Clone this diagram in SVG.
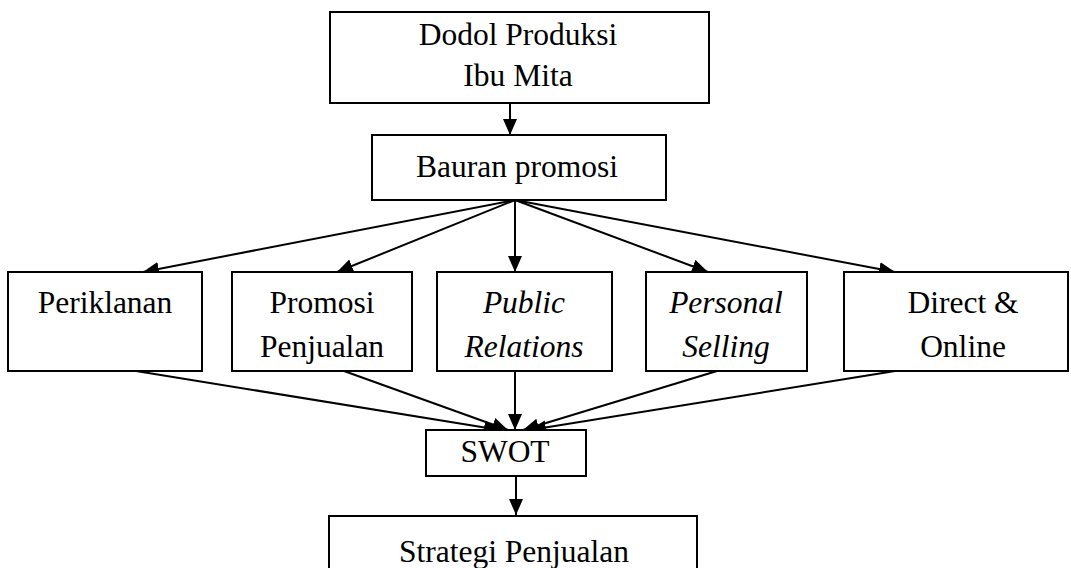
<svg xmlns="http://www.w3.org/2000/svg" width="1071" height="568" viewBox="0 0 1071 568">
<style>
.box{fill:#fff;stroke:#000;stroke-width:2}
.t{font-family:"Liberation Serif","Times New Roman",serif;font-size:31.5px;fill:#000;text-anchor:middle}
.i{font-style:italic}
.c{stroke:#000;stroke-width:2;fill:none;marker-end:url(#ah)}
</style>
<defs>
<marker id="ah" markerUnits="userSpaceOnUse" markerWidth="17" markerHeight="15" refX="16" refY="7" orient="auto">
<path d="M0,0 L16,7 L0,14 z" fill="#000"/>
</marker>
</defs>
<rect width="1071" height="568" fill="#fff"/>
<g id="connectors">
<line class="c" x1="510" y1="103" x2="510" y2="135"/>
<line class="c" x1="515" y1="200" x2="143" y2="272"/>
<line class="c" x1="515" y1="200" x2="337" y2="272"/>
<line class="c" x1="515" y1="200" x2="515" y2="272"/>
<line class="c" x1="515" y1="200" x2="708" y2="272"/>
<line class="c" x1="515" y1="200" x2="895" y2="272"/>
<line class="c" x1="136" y1="371" x2="500" y2="430"/>
<line class="c" x1="344" y1="371" x2="508" y2="430"/>
<line class="c" x1="515" y1="371" x2="515" y2="430"/>
<line class="c" x1="717" y1="371" x2="523" y2="430"/>
<line class="c" x1="895" y1="371" x2="530" y2="430"/>
<line class="c" x1="516" y1="476" x2="516" y2="515"/>
</g>
<g id="dodol">
<rect class="box" x="330" y="12" width="379" height="91"/>
<text class="t" x="518" y="45">Dodol Produksi</text>
<text class="t" x="518" y="86">Ibu Mita</text>
</g>
<g id="bauran">
<rect class="box" x="372" y="135" width="294" height="65"/>
<text class="t" x="517" y="177">Bauran promosi</text>
</g>
<g id="periklanan">
<rect class="box" x="8" y="272" width="194" height="99"/>
<text class="t" x="105" y="313">Periklanan</text>
</g>
<g id="promosi">
<rect class="box" x="232" y="272" width="180" height="99"/>
<text class="t" x="322" y="313">Promosi</text>
<text class="t" x="322" y="357">Penjualan</text>
</g>
<g id="public">
<rect class="box" x="437" y="272" width="175" height="99"/>
<text class="t i" x="524" y="313">Public</text>
<text class="t i" x="524" y="357">Relations</text>
</g>
<g id="personal">
<rect class="box" x="646" y="272" width="161" height="99"/>
<text class="t i" x="726" y="313">Personal</text>
<text class="t i" x="726" y="357">Selling</text>
</g>
<g id="direct">
<rect class="box" x="844" y="272" width="224" height="99"/>
<text class="t" x="963" y="313">Direct &amp;</text>
<text class="t" x="963" y="357">Online</text>
</g>
<g id="swot">
<rect class="box" x="426" y="430" width="160" height="46"/>
<text class="t" x="505" y="462">SWOT</text>
</g>
<g id="strategi">
<rect class="box" x="329" y="516" width="368" height="70"/>
<text class="t" x="514" y="562">Strategi Penjualan</text>
</g>
</svg>
